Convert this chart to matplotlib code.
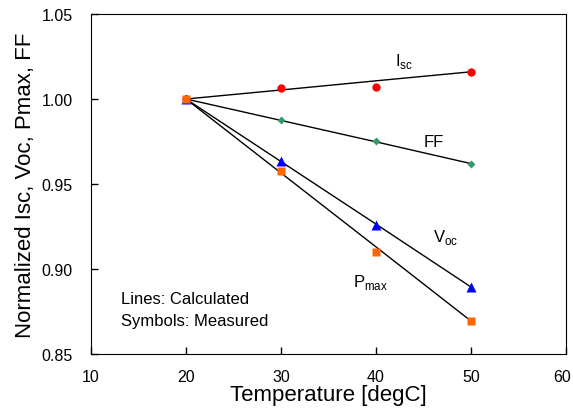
import matplotlib
matplotlib.use("Agg")
import matplotlib.pyplot as plt
import matplotlib.transforms as mtransforms

plt.rcParams["font.family"] = ["Liberation Sans", "DejaVu Sans"]

# =========================
# DATA
# =========================
temp = [20, 30, 40, 50]

# measured (symbols)
isc_meas = [1.000, 1.0065, 1.0070, 1.0160]
ff_meas = [1.000, 0.9876, 0.9753, 0.9618]
voc_meas = [1.000, 0.9635, 0.9259, 0.8894]
pmax_meas = [1.000, 0.9576, 0.9100, 0.8694]

# calculated (lines)
isc_calc = [1.000, 1.0053, 1.0107, 1.0160]
ff_calc = [1.000, 0.9874, 0.9748, 0.9620]
voc_calc = [1.000, 0.9632, 0.9264, 0.8894]
pmax_calc = [1.000, 0.9565, 0.9130, 0.8694]

xticks = [10, 20, 30, 40, 50, 60]
yticks = [0.85, 0.90, 0.95, 1.00, 1.05]

# =========================
# PLOT
# =========================
fig = plt.figure(figsize=(5.73, 4.10), dpi=100)
ax = fig.add_axes([91 / 573, 55 / 410, 475 / 573, 340 / 410])

for calc in [isc_calc, ff_calc, voc_calc, pmax_calc]:
    ax.plot(temp, calc, color="black", lw=1.0, zorder=2)

ax.plot(temp, isc_meas, "o", color="#FF0000", ms=6, mec="none", zorder=3)
ax.plot(temp, ff_meas, "D", color="#339966", ms=4.5, mec="none", zorder=3)
ax.plot(temp, voc_meas, "^", color="#0000FF", ms=6.5, mec="none", zorder=3)
ax.plot(temp, pmax_meas, "s", color="#FF6600", ms=6, mec="none", zorder=3)

ax.text(43.0, 1.0225, r"I$_{\mathregular{sc}}$", fontsize=12, ha="center", va="center")
ax.text(46.1, 0.975, "FF", fontsize=12, ha="center", va="center")
ax.text(47.3, 0.919, r"V$_{\mathregular{oc}}$", fontsize=12, ha="center", va="center")
ax.text(39.4, 0.8925, r"P$_{\mathregular{max}}$", fontsize=12, ha="center", va="center")

ax.text(13.2, 0.8829, "Lines: Calculated", fontsize=12, ha="left", va="center")
ax.text(13.2, 0.8695, "Symbols: Measured", fontsize=12, ha="left", va="center")

ax.set_xlim(10, 60)
ax.set_ylim(0.85, 1.05)
ax.set_xticks(xticks)
ax.set_yticks(yticks)
ax.set_yticklabels([f"{v:.2f}" for v in yticks])
ax.tick_params(direction="in", length=5, width=1, labelsize=11.5, pad=11)
ax.tick_params(axis="y", pad=13)

# keep the last x label inside the figure
last = ax.get_xticklabels()[-1]
last.set_transform(last.get_transform() + mtransforms.ScaledTranslation(-3 / 72, 0, fig.dpi_scale_trans))

ax.set_xlabel("Temperature [degC]", fontsize=16, labelpad=0)
ax.set_ylabel("Normalized Isc, Voc, Pmax, FF", fontsize=16, labelpad=4)

plt.savefig("out.png", dpi=100)
plt.close()
